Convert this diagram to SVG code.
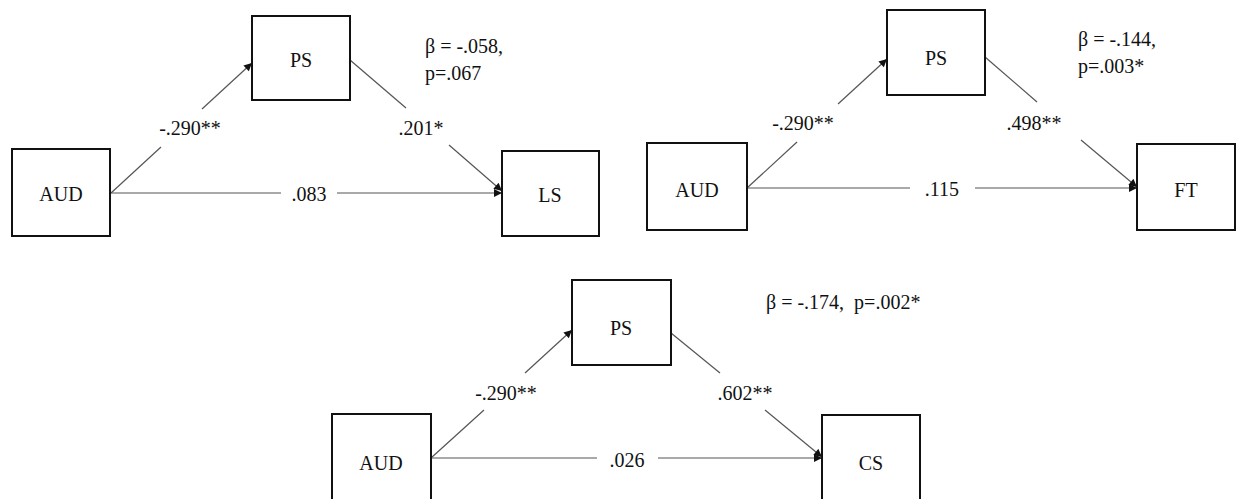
<svg xmlns="http://www.w3.org/2000/svg" width="1238" height="499" viewBox="0 0 1238 499" font-family="'Liberation Serif', Tinos, 'DejaVu Serif', serif">
  <style>
    .box { fill: #ffffff; stroke: #111111; stroke-width: 2; }
    text { font-family: 'Liberation Serif', Tinos, 'DejaVu Serif', serif; font-size: 20px; fill: #111111; }
    .node-label { text-anchor: middle; dominant-baseline: central; }
    .edge { stroke: #555555; stroke-width: 1.2; fill: none; }
    .edge-label { text-anchor: middle; dominant-baseline: central; }
  </style>
  <defs>
    <marker id="arrow" viewBox="0 0 10 10" refX="10" refY="5" markerWidth="9" markerHeight="8" markerUnits="userSpaceOnUse" orient="auto">
      <path d="M0,0 L10,5 L0,10 z" fill="#111111"/>
    </marker>
  </defs>
  <rect width="1238" height="499" fill="#ffffff"/>

  <!-- connectors, split around their coefficient labels -->
  <g id="connectors">
    <!-- model 1: AUD -> PS -> LS -->
    <line class="edge" x1="111" y1="193" x2="161" y2="147"/>
    <line class="edge" x1="202" y1="109" x2="252" y2="63" marker-end="url(#arrow)"/>
    <line class="edge" x1="350" y1="60" x2="406" y2="108"/>
    <line class="edge" x1="449" y1="145" x2="502" y2="191" marker-end="url(#arrow)"/>
    <line class="edge" x1="111" y1="193" x2="281" y2="193"/>
    <line class="edge" x1="337" y1="193" x2="502" y2="193" marker-end="url(#arrow)"/>

    <!-- model 2: AUD -> PS -> FT -->
    <line class="edge" x1="747" y1="188" x2="797" y2="142"/>
    <line class="edge" x1="838" y1="104" x2="887" y2="59" marker-end="url(#arrow)"/>
    <line class="edge" x1="985" y1="57" x2="1037" y2="102"/>
    <line class="edge" x1="1081" y1="140" x2="1137" y2="187" marker-end="url(#arrow)"/>
    <line class="edge" x1="747" y1="188" x2="910" y2="188"/>
    <line class="edge" x1="975" y1="188" x2="1137" y2="188" marker-end="url(#arrow)"/>

    <!-- model 3: AUD -> PS -> CS -->
    <line class="edge" x1="431" y1="458" x2="484" y2="410"/>
    <line class="edge" x1="525" y1="373" x2="572" y2="330" marker-end="url(#arrow)"/>
    <line class="edge" x1="671" y1="333" x2="720" y2="373"/>
    <line class="edge" x1="765" y1="410" x2="822" y2="457" marker-end="url(#arrow)"/>
    <line class="edge" x1="431" y1="458" x2="597" y2="458"/>
    <line class="edge" x1="658" y1="458" x2="822" y2="458" marker-end="url(#arrow)"/>

    <!-- path coefficients -->
    <text class="edge-label" x="190" y="128">-.290**</text>
    <text class="edge-label" x="421" y="128">.201*</text>
    <text class="edge-label" x="309" y="194">.083</text>

    <text class="edge-label" x="803" y="123">-.290**</text>
    <text class="edge-label" x="1034" y="123">.498**</text>
    <text class="edge-label" x="942" y="189">.115</text>

    <text class="edge-label" x="506" y="393">-.290**</text>
    <text class="edge-label" x="745" y="393">.602**</text>
    <text class="edge-label" x="627" y="460">.026</text>
  </g>

  <!-- model 1 nodes -->
  <g id="m1-aud"><rect class="box" x="12" y="149" width="98" height="87"/><text class="node-label" x="61" y="194">AUD</text></g>
  <g id="m1-ps"><rect class="box" x="252" y="16" width="98" height="84"/><text class="node-label" x="301" y="60">PS</text></g>
  <g id="m1-ls"><rect class="box" x="502" y="151" width="97" height="85"/><text class="node-label" x="550" y="195">LS</text></g>
  <g id="m1-stat">
    <text x="425" y="53">β = -.058,</text>
    <text x="425" y="80">p=.067</text>
  </g>

  <!-- model 2 nodes -->
  <g id="m2-aud"><rect class="box" x="647" y="143" width="100" height="87"/><text class="node-label" x="697" y="190">AUD</text></g>
  <g id="m2-ps"><rect class="box" x="887" y="10" width="98" height="85"/><text class="node-label" x="936" y="58">PS</text></g>
  <g id="m2-ft"><rect class="box" x="1137" y="144" width="98" height="86"/><text class="node-label" x="1186" y="190">FT</text></g>
  <g id="m2-stat">
    <text x="1078" y="46">β = -.144,</text>
    <text x="1078" y="73">p=.003*</text>
  </g>

  <!-- model 3 nodes -->
  <g id="m3-aud"><rect class="box" x="332" y="414" width="99" height="95"/><text class="node-label" x="381" y="463">AUD</text></g>
  <g id="m3-ps"><rect class="box" x="572" y="280" width="99" height="85"/><text class="node-label" x="621" y="328">PS</text></g>
  <g id="m3-cs"><rect class="box" x="822" y="415" width="98" height="94"/><text class="node-label" x="871" y="463">CS</text></g>
  <g id="m3-stat">
    <text x="766" y="309" xml:space="preserve">β = -.174,  p=.002*</text>
  </g>
</svg>
